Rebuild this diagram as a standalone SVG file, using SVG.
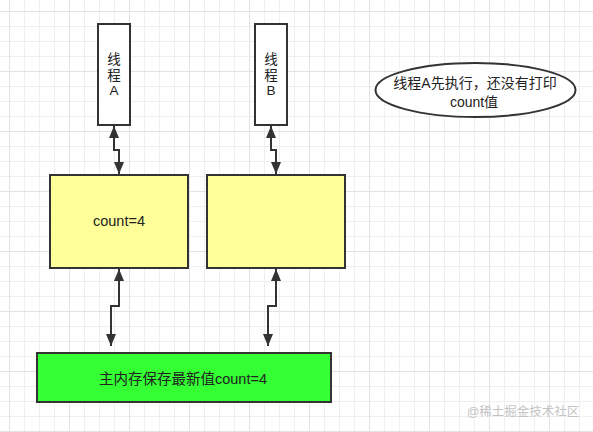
<svg xmlns="http://www.w3.org/2000/svg" width="593" height="432" viewBox="0 0 593 432">
<defs>
<pattern id="grid" patternUnits="userSpaceOnUse" x="9" y="11" width="60" height="60">
<path d="M15.5,0V60M30.5,0V60M45.5,0V60M0,15.5H60M0,30.5H60M0,45.5H60" stroke="#efefef" stroke-width="1" fill="none"/>
<path d="M0.5,0V60M0,0.5H60" stroke="#e2e2e2" stroke-width="1" fill="none"/>
</pattern>
<marker id="arr" markerUnits="userSpaceOnUse" markerWidth="14" markerHeight="12" refX="12" refY="5" orient="auto-start-reverse">
<path d="M0,0 L12,5 L0,10 Z" fill="#333"/>
</marker>
</defs>
<style>
.box{stroke:#333;stroke-width:2}
.t{font-family:"Liberation Sans","Noto Sans CJK SC",sans-serif;fill:#222;text-anchor:middle}
.c{fill:none;stroke:#333;stroke-width:2;marker-start:url(#arr);marker-end:url(#arr)}
</style>
<rect width="593" height="432" fill="#fff"/>
<rect width="593" height="432" fill="url(#grid)"/>
<g id="threadA">
<rect class="box" x="98" y="24" width="32" height="101" fill="#fff"/>
<text class="t" font-size="13.5" x="114" y="64">线</text>
<text class="t" font-size="13.5" x="114" y="80">程</text>
<text class="t" font-size="13.5" x="114" y="95">A</text>
</g>
<g id="threadB">
<rect class="box" x="255" y="24" width="32" height="101" fill="#fff"/>
<text class="t" font-size="13.5" x="271" y="64">线</text>
<text class="t" font-size="13.5" x="271" y="80">程</text>
<text class="t" font-size="13.5" x="271" y="95">B</text>
</g>
<g id="note">
<ellipse class="box" cx="475.5" cy="90" rx="100" ry="27" fill="#fff"/>
<text class="t" font-size="14" x="475" y="88">线程A先执行，还没有打印</text>
<text class="t" font-size="14" x="474" y="107">count值</text>
</g>
<g id="cacheA">
<rect class="box" x="50" y="175" width="138" height="93" fill="#ffff99"/>
<text class="t" font-size="14.5" x="119" y="226">count=4</text>
</g>
<g id="cacheB">
<rect class="box" x="207" y="175" width="138" height="93" fill="#ffff99"/>
</g>
<g id="mainMemory">
<rect class="box" x="37" y="353" width="294" height="49" fill="#33ff33"/>
<text class="t" font-size="14.5" x="183" y="384">主内存保存最新值count=4</text>
</g>
<g id="connectors">
<path class="c" d="M114,126 V150 H119 V174"/>
<path class="c" d="M271,126 V150 H276 V174"/>
<path class="c" d="M119,269 V306 H111 V346"/>
<path class="c" d="M276,269 V306 H268 V346"/>
</g>
<text x="523" y="416" font-size="12.5" font-family="'Liberation Sans','Noto Sans CJK SC',sans-serif" fill="#c4c4c4" text-anchor="middle">@稀土掘金技术社区</text>
</svg>
